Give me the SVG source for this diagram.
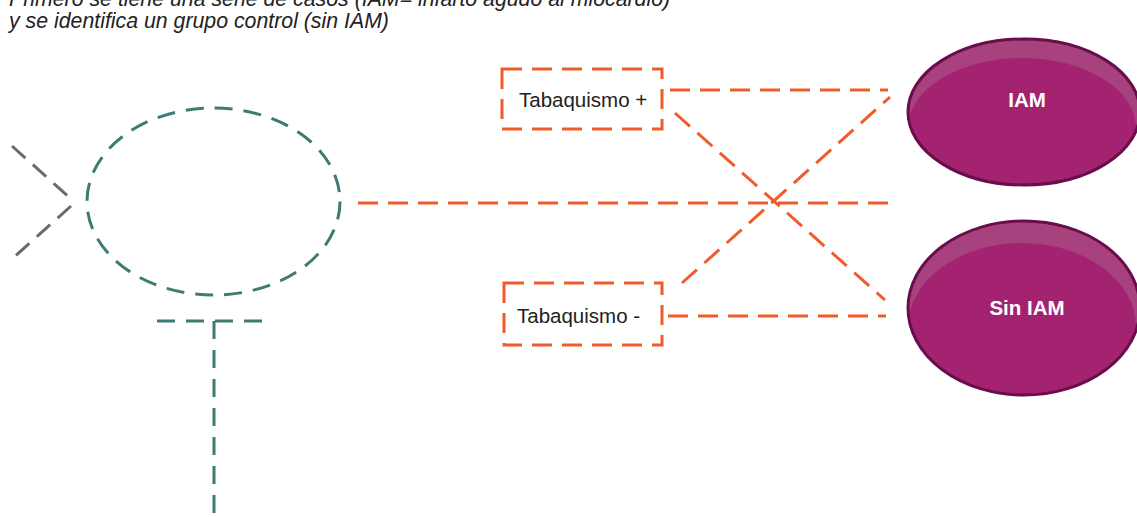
<svg xmlns="http://www.w3.org/2000/svg" width="1137" height="517" viewBox="0 0 1137 517">
<style>
.title{font-family:"Liberation Sans",Arial,sans-serif;font-style:italic;font-size:21.3px;fill:#222}
.lbl{font-family:"Liberation Sans",Arial,sans-serif;font-size:20.5px;fill:#222}
.wt{font-family:"Liberation Sans",Arial,sans-serif;font-size:20.5px;font-weight:bold;fill:#fff;text-anchor:middle}
.or{fill:none;stroke:#f15a2b;stroke-width:3;stroke-dasharray:20 10}
.tl{fill:none;stroke:#3d7b73;stroke-width:3;stroke-dasharray:18 11}
.gr{fill:none;stroke:#6b6b6b;stroke-width:3;stroke-dasharray:18 10}
</style>
<defs>
<clipPath id="c1"><ellipse cx="1024" cy="112" rx="116" ry="73"/></clipPath>
<clipPath id="c2"><ellipse cx="1024" cy="308" rx="116" ry="87"/></clipPath>
</defs>
<text class="title" x="9" y="6">Primero se tiene una serie de casos (IAM= infarto agudo al miocardio)</text>
<text class="title" x="9" y="28">y se identifica un grupo control (sin IAM)</text>

<g id="fish">
<ellipse class="tl" cx="213.5" cy="201.5" rx="126.5" ry="93.5"/>
<polyline class="gr" points="12,146 71,199"/>
<polyline class="gr" points="71,206 12,259"/>
<line class="tl" x1="157" y1="321" x2="267" y2="321"/>
<line class="tl" x1="214" y1="321" x2="214" y2="517"/>
</g>

<g id="connectors">
<line class="or" x1="358" y1="203" x2="890" y2="203"/>
<line class="or" x1="670" y1="90" x2="888" y2="90"/>
<line class="or" x1="675" y1="113" x2="885" y2="300"/>
<line class="or" x1="682" y1="283" x2="890" y2="97"/>
<line class="or" x1="668" y1="316" x2="886" y2="316"/>
</g>

<g id="tab-pos">
<rect class="or" x="502" y="69" width="160" height="60"/>
<text class="lbl" x="519" y="107">Tabaquismo +</text>
</g>
<g id="tab-neg">
<rect class="or" x="504" y="283" width="158" height="62"/>
<text class="lbl" x="517" y="323">Tabaquismo -</text>
</g>

<g id="iam">
<ellipse cx="1024" cy="112" rx="116" ry="73" fill="#a8427f"/>
<ellipse cx="1022" cy="128" rx="114" ry="70" fill="#a32371" clip-path="url(#c1)"/>
<ellipse cx="1024" cy="112" rx="116" ry="73" fill="none" stroke="#6a0d4b" stroke-width="3"/>
<text class="wt" x="1027" y="107">IAM</text>
</g>
<g id="siniam">
<ellipse cx="1024" cy="308" rx="116" ry="87" fill="#a8427f"/>
<ellipse cx="1022" cy="327" rx="114" ry="84" fill="#a32371" clip-path="url(#c2)"/>
<ellipse cx="1024" cy="308" rx="116" ry="87" fill="none" stroke="#6a0d4b" stroke-width="3"/>
<text class="wt" x="1027" y="315">Sin IAM</text>
</g>
</svg>
